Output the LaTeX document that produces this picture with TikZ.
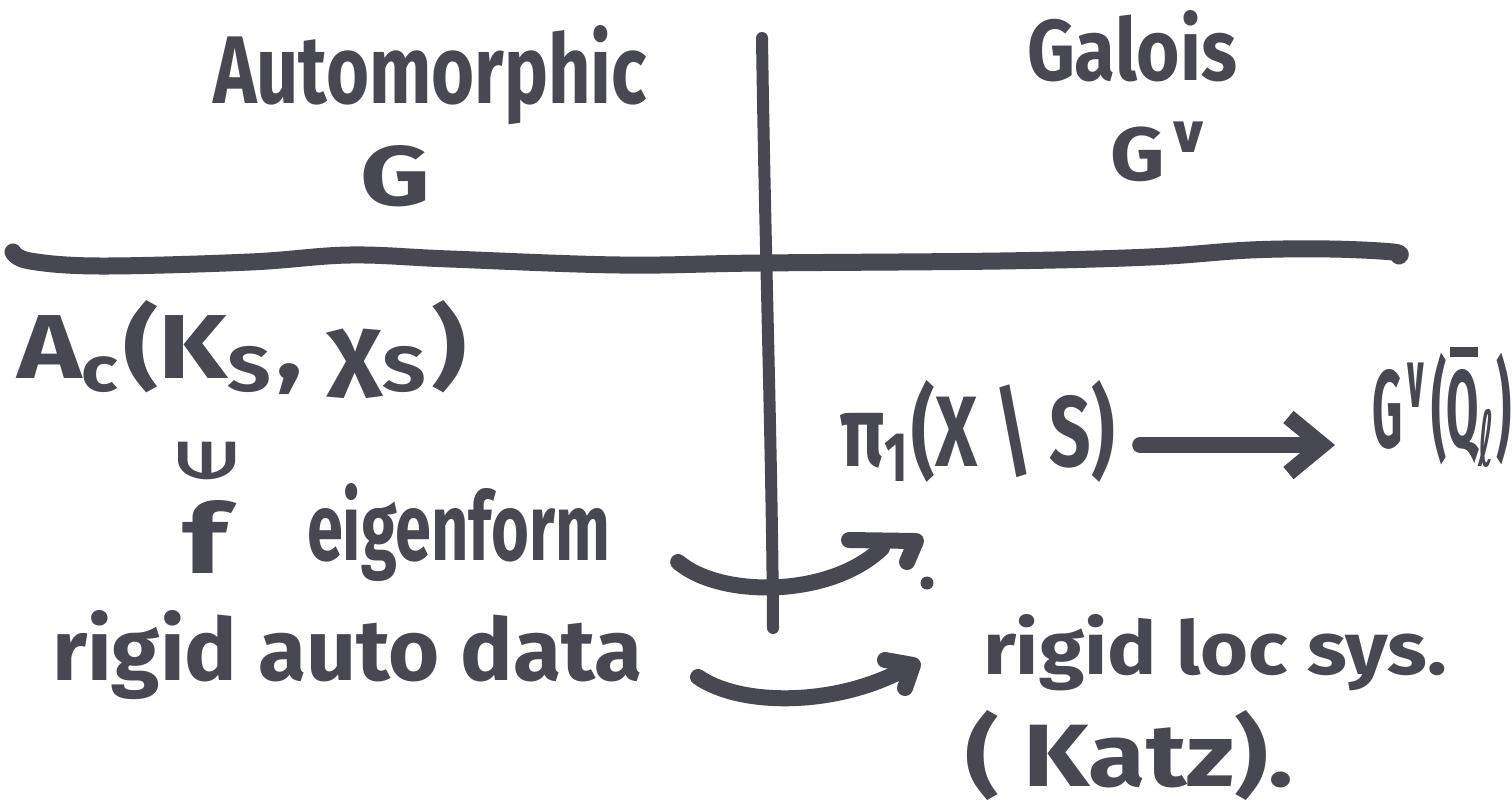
\documentclass[tikz,border=0pt]{standalone}
\usepackage{fontspec}
\usepackage{graphicx}
\setmainfont{Fira Sans}
\newfontfamily\symfont{DejaVu Sans}
\usetikzlibrary{arrows.meta,calc}
\definecolor{ink}{RGB}{72,72,82}
\newcommand\fitbox[3]{\resizebox{#1pt}{#2pt}{\bfseries #3}}
\newcommand\barQ{\leavevmode\rlap{\hspace{0.08em}\raisebox{0.82em}{\rule{0.6em}{0.09em}}}Q}

\begin{document}
\begin{tikzpicture}[x=1pt,y=-1pt,
  lbl/.style={anchor=base west, inner sep=0pt, outer sep=0pt, text=ink},
  stroke/.style={draw=ink, line width=16pt, line cap=round, line join=round}]
\fill[white] (0,0) rectangle (1512,809);
\useasboundingbox (0,0) rectangle (1512,809);

% dividing lines
\coordinate (vtop) at (762,38);
\coordinate (vbot) at (773,628);
\draw[stroke, line width=12pt] (vtop) .. controls (765,250) and (772,450) .. (vbot);
\draw[stroke, line width=17pt] plot[smooth, tension=0.6] coordinates {(13,252) (30,261) (100,266) (250,262) (350,255) (450,259) (620,265) (760,263) (1000,261) (1150,257) (1250,250) (1330,249) (1393,252) (1399,256)};

% headers
\node[lbl] (auto) at (213,103) {\fitbox{434}{78}{Automorphic}};
\node[lbl] (gA) at (360,205) {\fitbox{70}{60}{G}};
\node[lbl] (gal) at (1027,80) {\fitbox{210}{70}{Galois}};
\node[lbl] (gG) at (1110,180) {\fitbox{107}{58}{G\textsuperscript{\symfont ∨}}};

% automorphic side
\node[lbl] (Ac) at (17,378) {\fitbox{450}{78}{A\textsubscript{c}(K\textsubscript{S}, χ\textsubscript{S})}};
\node[rotate=90, text=ink, inner sep=0pt] (in) at (207,461) {\resizebox{45pt}{57pt}{\symfont\bfseries ∈}};
\node[lbl] (f) at (182,573) {\fitbox{45}{73}{f}};
\node[lbl] (eig) at (307,560) {\fitbox{303}{77}{eigenform}};
\node[lbl] (rad) at (52,680) {\fitbox{590}{70}{rigid auto data}};

% Galois side
\node[lbl] (pi) at (840,466) {\fitbox{275}{86}{π\textsubscript{1}(X \textbackslash{} S)}};
\node[lbl] (Gq) at (1372,447) {\fitbox{140}{100}{G\textsuperscript{\symfont ∨}(\barQ\textsubscript{\symfont ℓ})}};
\node[lbl] (rls) at (983,674) {\fitbox{464}{60}{rigid loc sys.}};
\node[lbl] (katz) at (965,786) {\fitbox{328}{76}{( Katz).}};
\node[circle, fill=ink, inner sep=0pt, minimum size=13pt] (pt) at (927,583) {};

% pi_1 -> G(Qbar)
\draw[stroke, -{Straight Barb[length=34pt,width=56pt]}] ($(pi.base east)+(25,-21)$) -- ($(Gq.base west)+(-37,-2)$);

% eigenform -> point
\coordinate (c1s) at ($(eig.base east)+(68,2)$);
\coordinate (c1t) at ($(pt)+(-11,-42)$);
\draw[stroke] (c1s) .. controls ($(c1s)+(42,36)$) and ($(c1t)+(-86,57)$) .. ($(c1t)+(-34,7)$);
\draw[stroke] ($(c1t)+(-67,-1)$) -- (c1t) -- ($(c1t)+(-9,21)$);

% rigid auto data -> rigid loc sys
\coordinate (c2s) at ($(rad.base east)+(56,-3)$);
\coordinate (c2t) at ($(rls.base west)+(-70,-9)$);
\draw[stroke] (c2s) .. controls ($(c2s)+(42,29)$) and ($(c2t)+(-83,41)$) .. ($(c2t)+(-16,8)$);
\draw[stroke] ($(c2t)+(-28,-5)$) -- (c2t) -- ($(c2t)+(-8,23)$);
\end{tikzpicture}
\end{document}
